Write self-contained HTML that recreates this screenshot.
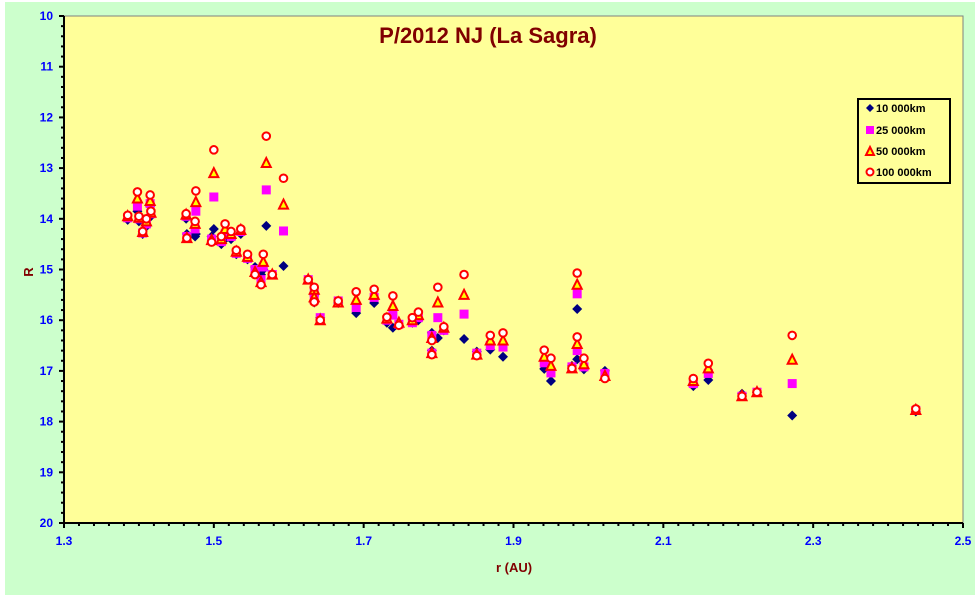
<!DOCTYPE html>
<html><head><meta charset="utf-8"><style>
html,body{margin:0;padding:0;background:#fff;}
svg{display:block;font-family:"Liberation Sans",Arial,sans-serif;}
</style></head><body>
<svg id="chart" width="977" height="600" viewBox="0 0 977 600" xmlns="http://www.w3.org/2000/svg">
<rect x="5" y="2" width="970" height="593" fill="#ccffcc"/>
<rect x="64" y="16" width="899" height="507" fill="#ffff99" stroke="#808080" stroke-width="1"/>
<text x="488" y="43" text-anchor="middle" font-size="22" font-weight="bold" fill="#800000">P/2012 NJ (La Sagra)</text>
<text x="33" y="272" text-anchor="middle" font-size="13" font-weight="bold" fill="#800000" transform="rotate(-90 33 272)">R</text>
<text x="514" y="572" text-anchor="middle" font-size="13" font-weight="bold" fill="#800000">r (AU)</text>
<g id="axes"></g>
<g id="marks"></g>
<g>
<rect x="858" y="99" width="92" height="84" fill="#ffff99" stroke="#000" stroke-width="2"/>
<g><path d="M870 104 L874 108 L870 112 L866 108Z" fill="#000080"/><text x="876" y="112" font-size="11" font-weight="bold">10 000km</text></g>
<g><rect x="866" y="126" width="8" height="8" fill="#ff00ff"/><text x="876" y="134" font-size="11" font-weight="bold">25 000km</text></g>
<g><path d="M870 147 L874 155 L866 155Z" fill="#ffff00" stroke="#ff0000" stroke-width="2"/><text x="876" y="155" font-size="11" font-weight="bold">50 000km</text></g>
<g><circle cx="870" cy="172" r="3.5" fill="#fff" stroke="#ff0000" stroke-width="2"/><text x="876" y="176" font-size="11" font-weight="bold">100 000km</text></g>
</g>
</svg>
<script>
const rValues=[1.385,1.398,1.400,1.405,1.410,1.415,1.416,1.463,1.464,1.475,1.476,1.497,1.500,1.510,1.515,1.523,1.530,1.536,1.545,1.555,1.563,1.566,1.570,1.578,1.593,1.626,1.634,1.634,1.642,1.666,1.690,1.714,1.731,1.739,1.747,1.765,1.773,1.791,1.791,1.799,1.807,1.834,1.851,1.869,1.886,1.941,1.950,1.978,1.985,1.985,1.994,2.022,2.140,2.160,2.205,2.225,2.272,2.437];
const r10k=[14.02,13.85,14.05,14.3,14.15,13.75,13.95,14.0,14.3,14.35,14.3,14.35,14.2,14.5,14.4,14.4,14.7,14.3,14.8,14.95,15.1,15.0,14.14,15.1,14.93,15.2,15.5,15.65,15.95,15.66,15.86,15.66,16.05,16.15,16.1,16.05,16.0,16.25,16.6,16.35,16.2,16.37,16.62,16.58,16.72,16.96,17.2,16.9,15.78,16.77,16.97,17.0,17.3,17.18,17.45,17.42,17.88,17.8];
const r25k=[13.98,13.75,14.0,14.28,14.1,13.7,13.9,13.95,14.35,14.2,13.85,14.4,13.57,14.45,14.3,14.35,14.68,14.25,14.78,15.0,15.2,14.95,13.43,15.1,14.24,15.2,15.45,15.6,15.95,15.62,15.75,15.55,16.0,15.9,16.08,16.05,15.95,16.3,16.65,15.95,16.2,15.88,16.65,16.5,16.53,16.84,17.04,16.92,15.48,16.6,16.92,17.05,17.25,17.05,17.5,17.42,17.25,17.78];
const r50k=[13.95,13.6,13.98,14.26,14.05,13.65,13.88,13.92,14.38,14.1,13.67,14.42,13.1,14.4,14.2,14.3,14.65,14.22,14.75,15.05,15.25,14.85,12.9,15.1,13.72,15.2,15.4,15.55,16.0,15.65,15.6,15.5,15.97,15.72,16.05,16.0,15.9,16.35,16.65,15.65,16.15,15.5,16.68,16.4,16.4,16.72,16.9,16.95,15.3,16.47,16.87,17.1,17.2,16.95,17.5,17.42,16.78,17.77];
const r100k=[13.93,13.47,13.95,14.25,14.0,13.53,13.85,13.9,14.38,14.05,13.45,14.46,12.64,14.35,14.1,14.25,14.62,14.2,14.7,15.1,15.3,14.7,12.37,15.1,13.2,15.2,15.35,15.64,16.0,15.62,15.44,15.39,15.94,15.52,16.1,15.95,15.84,16.4,16.68,15.35,16.13,15.1,16.7,16.3,16.25,16.59,16.75,16.95,15.07,16.33,16.75,17.15,17.15,16.85,17.5,17.42,16.3,17.75];
const xTicks=["1.3","1.5","1.7","1.9","2.1","2.3","2.5"];
const yTicks=["10","11","12","13","14","15","16","17","18","19","20"];

const X0=64,X1=963,Y0=16,Y1=523;
const xs=v=>X0+(v-1.3)/(2.5-1.3)*(X1-X0);
const ys=v=>Y0+(v-10)/(20-10)*(Y1-Y0);
const NS="http://www.w3.org/2000/svg";
function mk(tag,attrs,parent){const e=document.createElementNS(NS,tag);for(const k in attrs)e.setAttribute(k,attrs[k]);parent.appendChild(e);return e;}
const axes=document.getElementById('axes'),marks=document.getElementById('marks');
// axis lines
let a=mk('line',{x1:X0,y1:Y0,x2:X0,y2:Y1+1,stroke:'#000','stroke-width':2},axes);


a=mk('line',{x1:X0-1,y1:Y1,x2:X1,y2:Y1,stroke:'#000','stroke-width':2},axes);


for(let i=0;i<=60;i++){const v=1.3+i*0.02;const x=xs(v);const major=i%10==0;
 mk('line',{x1:x,y1:Y1,x2:x,y2:Y1+(major?5:3),stroke:'#000','stroke-width':2},axes);}
for(let i=0;i<=50;i++){const v=10+i*0.2;const y=ys(v);const major=i%5==0;
 mk('line',{x1:X0-(major?5:3),y1:y,x2:X0,y2:y,stroke:'#000','stroke-width':2},axes);}
xTicks.forEach(t=>{const e=mk('text',{x:xs(parseFloat(t)),y:Y1+22,'text-anchor':'middle','font-size':12,'font-weight':'bold',fill:'#0000ff'},axes);e.textContent=t;
 
 });
yTicks.forEach(t=>{const e=mk('text',{x:X0-11,y:ys(parseFloat(t))+4,'text-anchor':'end','font-size':12,'font-weight':'bold',fill:'#0000ff'},axes);e.textContent=t;
 
 });
// series
rValues.forEach((r,i)=>{const x=xs(r);
 let y=ys(r10k[i]);
 let e=mk('path',{d:`M${x} ${y-5}L${x+5} ${y}L${x} ${y+5}L${x-5} ${y}Z`,fill:'#000080'},marks);
 
 
});
rValues.forEach((r,i)=>{const x=xs(r);const y=ys(r25k[i]);
 const e=mk('rect',{x:x-4.5,y:y-4.5,width:9,height:9,fill:'#ff00ff'},marks);
 
 
});
rValues.forEach((r,i)=>{const x=xs(r);const y=ys(r50k[i]);
 const e=mk('path',{d:`M${x} ${y-5}L${x+4.5} ${y+4}L${x-4.5} ${y+4}Z`,fill:'#ffff00',stroke:'#ff0000','stroke-width':2},marks);
 
 
});
rValues.forEach((r,i)=>{const x=xs(r);const y=ys(r100k[i]);
 const e=mk('circle',{cx:x,cy:y,r:3.8,fill:'#fff',stroke:'#ff0000','stroke-width':2},marks);
 
 
});
</script>
</body></html>
